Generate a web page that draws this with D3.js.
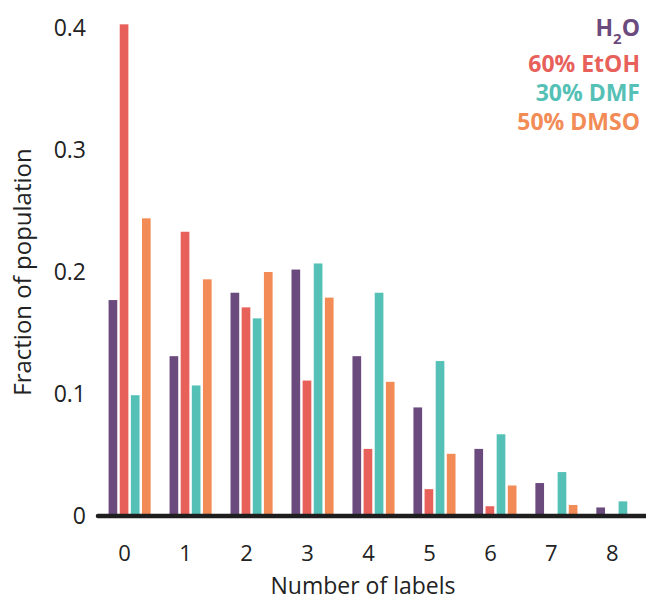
<!DOCTYPE html>
<html>
<head>
<meta charset="utf-8">
<script src="https://d3js.org/d3.v7.min.js"></script>
<style>
  body { margin: 0; background: #fff; overflow: hidden; }
  text { font-family: "Open Sans", sans-serif; }
</style>
</head>
<body>
<svg></svg>
<script>
// data
var labels = ["0", "1", "2", "3", "4", "5", "6", "7", "8"];
var seriesNames = ["H2O", "60% EtOH", "30% DMF", "50% DMSO"];
var h2o = [0.177, 0.131, 0.183, 0.202, 0.131, 0.089, 0.055, 0.027, 0.007];
var etoh = [0.403, 0.233, 0.171, 0.111, 0.055, 0.022, 0.008, 0, 0];
var dmf = [0.099, 0.107, 0.162, 0.207, 0.183, 0.127, 0.067, 0.036, 0.012];
var dmso = [0.244, 0.194, 0.200, 0.179, 0.110, 0.051, 0.025, 0.009, 0];
var yTicks = [0, 0.1, 0.2, 0.3, 0.4];
var colors = ["#6b4a7d", "#e8605a", "#55c1b6", "#f28b56"];

var series = [h2o, etoh, dmf, dmso];

var width = 646, height = 601;

var svg = d3.select("svg")
  .attr("width", width)
  .attr("height", height)
  .style("display", "block");

// scales
var x0 = d3.scaleBand()
  .domain(labels)
  .range([97, 650])
  .paddingInner(0.31)
  .paddingOuter(0.19);

var x1 = d3.scaleBand()
  .domain(d3.range(series.length))
  .range([0, x0.bandwidth()])
  .paddingInner(0.22);

var y = d3.scaleLinear()
  .domain([0, 0.4])
  .range([516, 28]);

// bars
var groups = svg.selectAll("g.grp")
  .data(labels)
  .enter()
  .append("g")
  .attr("class", "grp")
  .attr("transform", function (d) { return "translate(" + x0(d) + ",0)"; });

groups.selectAll("rect")
  .data(function (d, i) {
    return series.map(function (s, k) { return { k: k, v: s[i] }; });
  })
  .enter()
  .append("rect")
  .attr("x", function (d) { return x1(d.k); })
  .attr("width", x1.bandwidth())
  .attr("y", function (d) { return y(d.v); })
  .attr("height", function (d) { return y(0) - y(d.v); })
  .attr("fill", function (d) { return colors[d.k]; });

// baseline
svg.append("line")
  .attr("x1", 98)
  .attr("x2", width + 5)
  .attr("y1", y(0))
  .attr("y2", y(0))
  .attr("stroke", "#1e1e1e")
  .attr("stroke-width", 4.5)
  .attr("stroke-linecap", "round");

// y axis
var yAxis = svg.append("g")
  .attr("transform", "translate(86,0)")
  .call(d3.axisLeft(y).tickValues(yTicks).tickSize(0).tickPadding(0).tickFormat(d3.format("")));
yAxis.select(".domain").remove();
yAxis.selectAll("text")
  .style("font-family", "Open Sans")
  .style("font-size", "23px")
  .attr("fill", "#222");

// x axis labels
var xAxis = svg.append("g")
  .attr("transform", "translate(-5,545)")
  .call(d3.axisBottom(x0).tickSize(0).tickPadding(0));
xAxis.select(".domain").remove();
xAxis.selectAll("text")
  .style("font-family", "Open Sans")
  .style("font-size", "22px")
  .attr("fill", "#222");

// axis titles
svg.append("text")
  .attr("x", 363)
  .attr("y", 594)
  .attr("text-anchor", "middle")
  .style("font-size", "23px")
  .attr("fill", "#222")
  .text("Number of labels");

svg.append("text")
  .attr("transform", "translate(31,272) rotate(-90)")
  .attr("text-anchor", "middle")
  .style("font-size", "24px")
  .attr("fill", "#222")
  .text("Fraction of population");

// legend
var legend = svg.append("g")
  .attr("text-anchor", "end")
  .style("font-weight", "bold")
  .style("font-size", "23px");

seriesNames.forEach(function (name, i) {
  var t = legend.append("text")
    .attr("x", 640)
    .attr("y", i == 0 ? 36 : 72 + (i - 1) * 29)
    .attr("fill", colors[i]);
  if (name == "H2O") {
    t.append("tspan").text("H");
    t.append("tspan").attr("dy", 8).style("font-size", "15px").text("2");
    t.append("tspan").attr("dy", -8).text("O");
  } else {
    t.text(name);
  }
});
</script>
</body>
</html>
